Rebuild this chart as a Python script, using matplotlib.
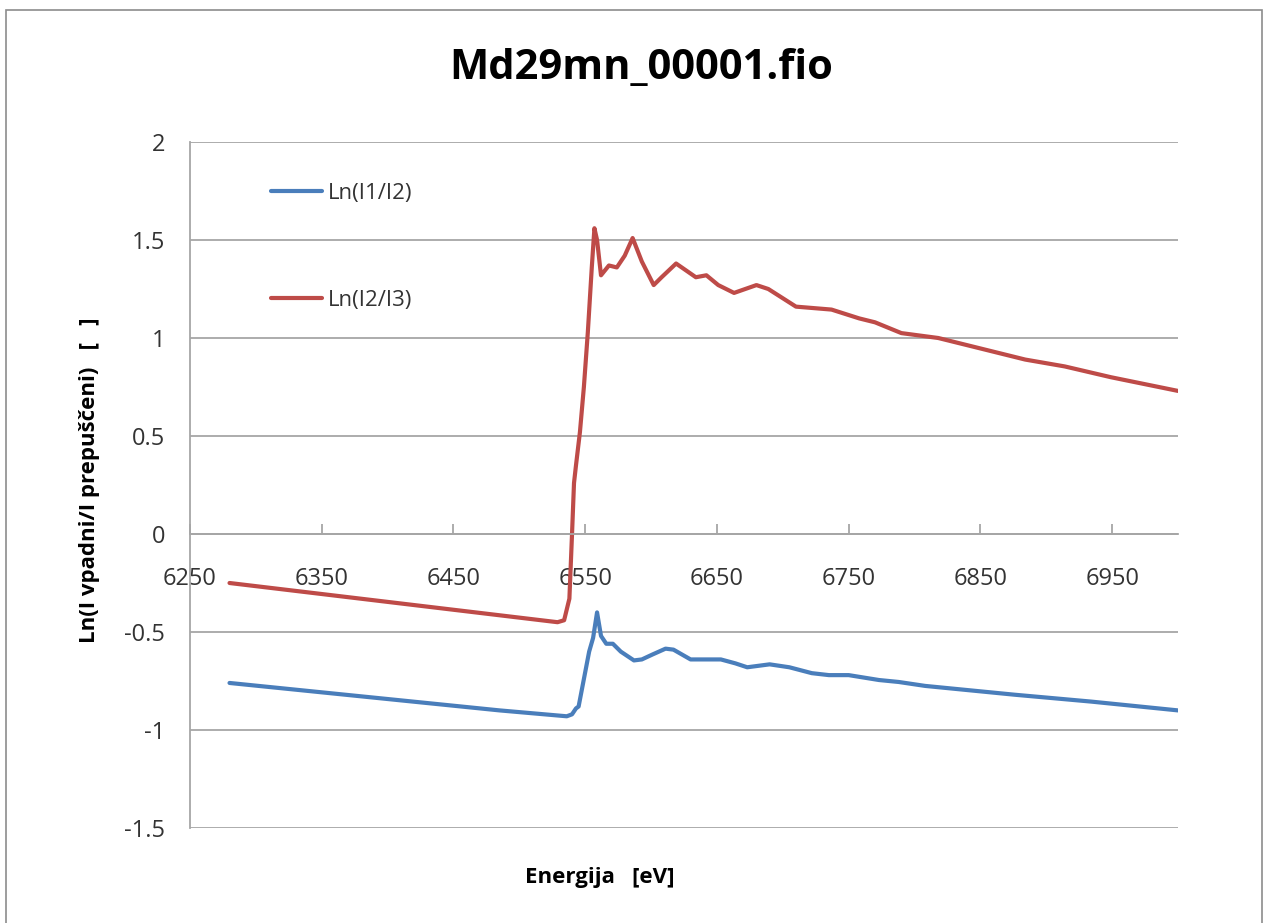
import matplotlib
matplotlib.use("Agg")
import matplotlib.pyplot as plt
from matplotlib.patches import Rectangle

plt.rcParams['font.family'] = ['Open Sans', 'DejaVu Sans']

# Energy points [eV] and the two absorption curves
e_red = [6280, 6529, 6534, 6538, 6540, 6541.5, 6543, 6546, 6549, 6552, 6555, 6557,
         6559, 6562, 6568, 6574, 6580, 6586, 6593, 6602, 6608, 6619, 6634, 6642,
         6651, 6663, 6680, 6689, 6710, 6737, 6758, 6770, 6790, 6818, 6848, 6884,
         6914, 6949, 7000]
ln_i2_i3 = [-0.25, -0.45, -0.44, -0.33, 0.0, 0.26, 0.35, 0.52, 0.75, 1.03, 1.36, 1.56,
            1.50, 1.32, 1.37, 1.36, 1.42, 1.51, 1.39, 1.27, 1.31, 1.38, 1.31, 1.32,
            1.27, 1.23, 1.27, 1.25, 1.16, 1.145, 1.10, 1.08, 1.025, 1.0, 0.95, 0.89,
            0.855, 0.80, 0.73]

e_blue = [6280, 6485, 6536, 6540, 6543, 6545, 6549, 6553, 6556, 6559, 6562, 6566,
          6571, 6577, 6587, 6593, 6601, 6611, 6617, 6630, 6641, 6653, 6664, 6673,
          6690, 6705, 6722, 6735, 6750, 6773, 6788, 6808, 6876, 6934, 7000]
ln_i1_i2 = [-0.76, -0.90, -0.93, -0.92, -0.89, -0.88, -0.74, -0.60, -0.53, -0.40,
            -0.52, -0.56, -0.56, -0.60, -0.645, -0.64, -0.615, -0.585, -0.59, -0.64,
            -0.64, -0.64, -0.66, -0.68, -0.665, -0.68, -0.71, -0.72, -0.72, -0.745,
            -0.755, -0.775, -0.82, -0.855, -0.90]

x_ticks = [6250, 6350, 6450, 6550, 6650, 6750, 6850, 6950]
y_ticks = [-1.5, -1, -0.5, 0, 0.5, 1, 1.5, 2]
y_labels = ['-1.5', '-1', '-0.5', '0', '0.5', '1', '1.5', '2']

blue = '#4A7EBB'
red = '#BE4B48'
grey = '#A6A6A6'

fig = plt.figure(figsize=(12.68, 9.23), dpi=100)
fig.patches.append(Rectangle((6 / 1268, -0.01), 1256 / 1268, 1 - 10 / 923 + 0.01,
                             transform=fig.transFigure, fill=False,
                             edgecolor='#8C8C8C', lw=1.2))
ax = fig.add_axes([190 / 1268, 95 / 923, 988 / 1268, 686 / 923])

ax.plot(e_blue, ln_i1_i2, color=blue, lw=3, label='Ln(I1/I2)',
        solid_joinstyle='round', solid_capstyle='round')
ax.plot(e_red, ln_i2_i3, color=red, lw=3, label='Ln(I2/I3)',
        solid_joinstyle='round', solid_capstyle='round')

ax.set_xlim(6250, 7000)
ax.set_ylim(-1.5, 2)
ax.set_xticks(x_ticks)
ax.set_xticklabels([str(t) for t in x_ticks])
ax.set_yticks(y_ticks)
ax.set_yticklabels(y_labels)

ax.grid(axis='y', color=grey, lw=1.3)
ax.set_axisbelow(True)
for s in ['top', 'right']:
    ax.spines[s].set_visible(False)
ax.spines['left'].set_color(grey)
ax.spines['left'].set_linewidth(1.3)
ax.spines['bottom'].set_position(('data', 0))
ax.spines['bottom'].set_color(grey)
ax.spines['bottom'].set_linewidth(1.3)

ax.tick_params(axis='x', direction='in', length=7, width=1.3, color=grey,
               pad=24, labelsize=17, labelcolor='#333333')
ax.tick_params(axis='y', length=0, pad=18, labelsize=17, labelcolor='#333333')

fig.text(641 / 1268, 1 - 68 / 923, 'Md29mn_00001.fio', ha='center', va='center',
         fontsize=30, fontweight='bold')
fig.text(600 / 1268, 1 - 878 / 923, 'Energija   [eV]', ha='center', va='center',
         fontsize=16, fontweight='bold')
fig.text(90 / 1268, 1 - 480 / 923, 'Ln(I vpadni/I prepuščeni)   [   ]', ha='center',
         va='center', rotation=90, fontsize=16, fontweight='bold')

leg = ax.legend(loc='upper left', bbox_to_anchor=(0.062, 0.97), frameon=False,
                fontsize=16, handlelength=2.3, handletextpad=0.25, labelspacing=3.9)
for t in leg.get_texts():
    t.set_color('#333333')

fig.savefig('out.png', dpi=100)
